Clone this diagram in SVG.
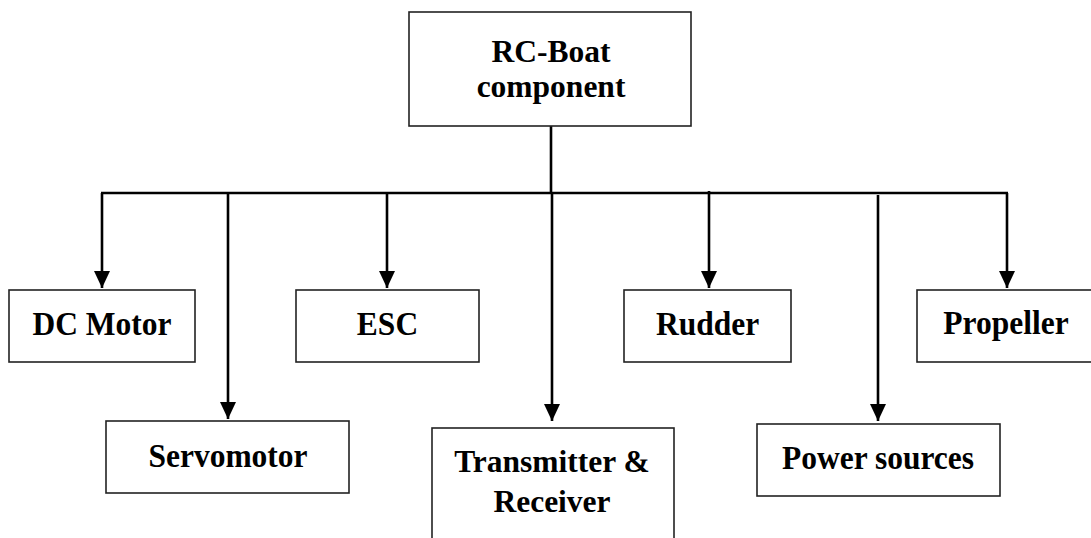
<svg xmlns="http://www.w3.org/2000/svg" width="1091" height="538" viewBox="0 0 1091 538">
<style>
.box{fill:#fff;stroke:#222;stroke-width:1.6}
.lbl{font-family:"Liberation Serif","Times New Roman",serif;font-weight:bold;font-size:31.5px;fill:#000;text-anchor:middle}
.con{stroke:#000;stroke-width:2.6;fill:none}
</style>
<defs>
<marker id="arr" markerUnits="userSpaceOnUse" markerWidth="16" markerHeight="17" refX="17" refY="8" orient="auto">
<path d="M0,0 L17,8 L0,16 z" fill="#000"/>
</marker>
</defs>
<rect width="1091" height="538" fill="#fff"/>
<g id="connectors">
<line class="con" x1="551" y1="126" x2="551" y2="193"/>
<line class="con" x1="101" y1="193" x2="1008" y2="193"/>
<line class="con" x1="102" y1="193" x2="102" y2="288" marker-end="url(#arr)"/>
<line class="con" x1="228" y1="193" x2="228" y2="419" marker-end="url(#arr)"/>
<line class="con" x1="387" y1="193" x2="387" y2="288" marker-end="url(#arr)"/>
<line class="con" x1="552" y1="193" x2="552" y2="421" marker-end="url(#arr)"/>
<line class="con" x1="709" y1="191" x2="709" y2="288" marker-end="url(#arr)"/>
<line class="con" x1="878" y1="195" x2="878" y2="421" marker-end="url(#arr)"/>
<line class="con" x1="1007" y1="193" x2="1007" y2="288" marker-end="url(#arr)"/>
</g>
<g id="root">
<rect class="box" x="409" y="12" width="282" height="114"/>
<text class="lbl" x="551" y="62">RC-Boat</text>
<text class="lbl" x="551" y="97">component</text>
</g>
<g id="dcmotor">
<rect class="box" x="9" y="290" width="186" height="72"/>
<text class="lbl" transform="translate(102,335) scale(1,1.08)">DC Motor</text>
</g>
<g id="esc">
<rect class="box" x="296" y="290" width="183" height="72"/>
<text class="lbl" transform="translate(387.5,335) scale(1,1.08)">ESC</text>
</g>
<g id="rudder">
<rect class="box" x="624" y="290" width="167" height="72"/>
<text class="lbl" transform="translate(707.5,335) scale(1,1.08)">Rudder</text>
</g>
<g id="propeller">
<rect class="box" x="917" y="290" width="175" height="72"/>
<text class="lbl" transform="translate(1006,334) scale(1,1.08)">Propeller</text>
</g>
<g id="servomotor">
<rect class="box" x="106" y="421" width="243" height="72"/>
<text class="lbl" transform="translate(228,467) scale(1,1.08)">Servomotor</text>
</g>
<g id="transmitter">
<rect class="box" x="432" y="428" width="242" height="115"/>
<text class="lbl" x="552" y="472">Transmitter &amp;</text>
<text class="lbl" x="552" y="512">Receiver</text>
</g>
<g id="power">
<rect class="box" x="757" y="424" width="243" height="72"/>
<text class="lbl" transform="translate(878,469) scale(1,1.08)">Power sources</text>
</g>
</svg>
